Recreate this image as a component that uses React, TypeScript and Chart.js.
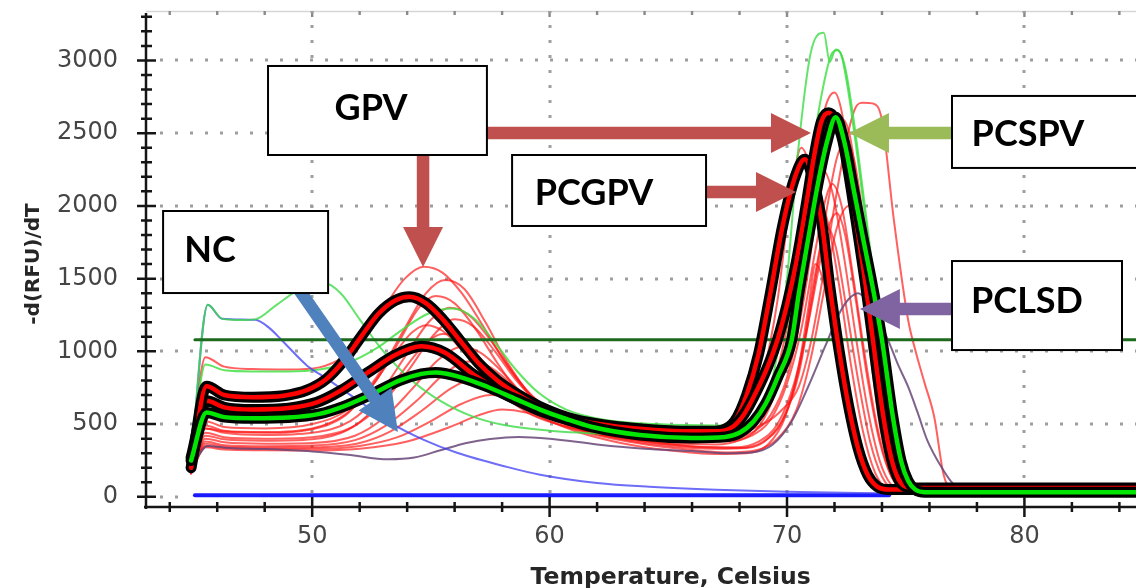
import React, { useEffect, useRef } from 'react';
import { Chart, registerables } from 'chart.js';

Chart.register(...registerables);

type P = [number, number];

// ---------- axes ----------
const tempMin = 43;
const tempMax = 84.7;
const rfuMin = -70;
const rfuMax = 3340;
const tempTickLabels = [50, 60, 70, 80];
const rfuTickLabels = [0, 500, 1000, 1500, 2000, 2500, 3000];
const xTitle = 'Temperature, Celsius';
const yTitle = '-d(RFU)/dT';
const thresholdRfu = 1080;

// ---------- thick highlighted curves ----------
const thickRedMid: P[] = [
  [44.9, 270], [45.55, 660], [46.3, 615], [47.5, 600], [49, 610], [50.2, 650], [51.2, 730], [52.4, 860],
  [53.5, 975], [54.6, 1035], [55.6, 990], [56.8, 840], [58.2, 700], [59.6, 590], [61, 520], [63, 470],
  [65, 450], [66.5, 445], [67.3, 460], [67.8, 520], [68.3, 700], [68.8, 980], [69.3, 1400], [69.8, 1850],
  [70.3, 2180], [70.75, 2320], [71.1, 2180], [71.45, 1900], [71.8, 1450], [72.2, 1000], [72.6, 620],
  [73.0, 330], [73.4, 150], [73.8, 70], [74.3, 50], [84.7, 50],
];
const thickRedHigh: P[] = [
  [44.9, 200], [45.55, 760], [46.3, 700], [47.5, 685], [48.8, 695], [49.8, 735], [50.6, 810], [51.3, 930],
  [52.1, 1110], [52.8, 1260], [53.5, 1350], [54.1, 1375], [54.8, 1330], [55.5, 1220], [56.2, 1080],
  [57, 920], [57.8, 800], [58.7, 700], [59.6, 620], [61, 535], [63, 480], [65, 455], [67, 450],
  [67.7, 480], [68.2, 570], [68.7, 720], [69.2, 900], [69.6, 1080], [70.0, 1320], [70.4, 1620],
  [70.8, 2000], [71.15, 2350], [71.45, 2580], [71.75, 2640], [72.05, 2590], [72.35, 2450], [72.7, 2120],
  [73.0, 1800], [73.3, 1470], [73.6, 1100], [74.05, 560], [74.4, 260], [74.7, 120], [75.0, 70],
  [75.4, 60], [84.7, 60],
];
const thickGreen: P[] = [
  [44.9, 250], [45.55, 580], [46.3, 548], [47.5, 540], [49, 545], [50.3, 570], [51.3, 620], [52.5, 705],
  [53.7, 800], [54.6, 845], [55.2, 855], [56.2, 825], [57.4, 755], [58.6, 670], [59.6, 600], [60.7, 535],
  [61.8, 480], [63.8, 425], [66, 405], [67.4, 412], [68.0, 440], [68.6, 520], [69.1, 640], [69.6, 820],
  [70.2, 1080], [70.5, 1400], [70.9, 1780], [71.3, 2150], [71.7, 2450], [72.05, 2610], [72.4, 2450],
  [72.8, 2120], [73.2, 1780], [73.6, 1450], [74.0, 1080], [74.45, 560], [74.8, 250], [75.1, 110],
  [75.4, 50], [75.8, 32], [84.7, 32],
];

// ---------- thin red curves ----------
const red1: P[] = [
  [44.9, 300], [45.5, 960], [46.3, 895], [47.5, 878], [49, 875], [50.3, 890], [51.3, 960], [52.2, 1100],
  [53.1, 1320], [53.9, 1500], [54.7, 1582], [55.5, 1540], [56.3, 1400], [57.1, 1200], [58, 960],
  [59, 740], [60, 600], [61.5, 510], [63.5, 470], [66, 450], [68, 450], [69, 500], [69.8, 600],
  [70.5, 760], [71.0, 1060], [71.5, 1500], [72.0, 2000], [72.5, 2450], [72.9, 2680], [73.2, 2710],
  [73.6, 2705], [74.0, 2590], [74.5, 1905], [75.1, 1217], [75.4, 1011], [75.8, 780], [76.2, 550],
  [76.6, 150], [76.9, 55], [77.5, 38], [84.7, 35],
];
const red2: P[] = [
  [44.9, 220], [45.5, 520], [46.3, 480], [48, 470], [50, 500], [51.5, 600], [52.7, 820], [53.8, 1130],
  [54.8, 1400], [55.6, 1490], [56.4, 1430], [57.3, 1200], [58.2, 930], [59.2, 700], [60.5, 560],
  [62.5, 480], [65, 440], [67, 430], [68, 450], [68.8, 560], [69.5, 820], [70.1, 1250], [70.7, 1850],
  [71.3, 2450], [71.7, 2720], [72.0, 2780], [72.3, 2650], [72.7, 2200], [73.1, 1600], [73.5, 1000],
  [73.9, 500], [74.3, 200], [74.8, 60], [75.5, 40], [84.7, 40],
];
const red3: P[] = [
  [44.9, 210], [45.5, 490], [46.3, 455], [48, 445], [50, 470], [51.5, 580], [52.7, 800], [53.7, 1080],
  [54.5, 1300], [55.2, 1380], [56, 1330], [56.9, 1150], [57.8, 920], [58.8, 700], [60, 560], [62, 470],
  [64.5, 420], [66.5, 410], [67.5, 440], [68.3, 560], [69, 850], [69.6, 1350], [70.1, 2000],
  [70.6, 2400], [71.0, 2250], [71.5, 1800], [72.0, 1250], [72.5, 750], [73.0, 380], [73.5, 150],
  [74, 60], [74.8, 40], [84.7, 40],
];
const red4: P[] = [
  [44.9, 200], [45.5, 470], [46.3, 440], [48, 425], [50, 440], [51.6, 520], [52.8, 700], [53.9, 960],
  [54.9, 1200], [55.8, 1300], [56.6, 1250], [57.5, 1080], [58.4, 860], [59.4, 660], [60.6, 540],
  [62.5, 460], [65, 410], [67, 395], [68, 420], [68.8, 520], [69.5, 750], [70.1, 1150], [70.7, 1700],
  [71.2, 2100], [71.5, 2250], [71.9, 2100], [72.4, 1650], [72.9, 1100], [73.4, 600], [73.9, 250],
  [74.4, 80], [75, 40], [84.7, 40],
];
const red5: P[] = [
  [44.9, 190], [45.5, 440], [46.3, 410], [48, 400], [50, 410], [51.7, 480], [53, 650], [54.1, 880],
  [55.1, 1110], [56.0, 1220], [56.8, 1170], [57.7, 1000], [58.6, 800], [59.6, 630], [61, 510], [63, 440],
  [65.5, 390], [67.5, 380], [68.5, 420], [69.3, 530], [70, 780], [70.6, 1150], [71.2, 1700],
  [71.6, 2030], [71.9, 2150], [72.3, 2000], [72.8, 1500], [73.3, 950], [73.8, 480], [74.3, 180],
  [74.8, 60], [75.5, 40], [84.7, 40],
];
const red6: P[] = [
  [44.9, 180], [45.5, 420], [46.3, 395], [48, 385], [50, 395], [51.5, 460], [52.7, 620], [53.7, 840],
  [54.7, 1040], [55.5, 1120], [56.3, 1080], [57.2, 930], [58.1, 750], [59.1, 600], [60.5, 490],
  [62.5, 420], [65, 370], [67, 360], [68, 390], [68.8, 480], [69.5, 720], [70.1, 1150], [70.7, 1700],
  [71.05, 1960], [71.3, 2050], [71.7, 1900], [72.2, 1450], [72.7, 900], [73.2, 450], [73.7, 170],
  [74.2, 60], [75, 40], [84.7, 40],
];
const red7: P[] = [
  [44.9, 175], [45.5, 400], [46.3, 375], [48, 365], [50, 370], [51.8, 420], [53, 540], [54.2, 740],
  [55.3, 940], [56.3, 1030], [57.1, 990], [58, 860], [58.9, 700], [59.9, 570], [61.3, 470], [63.3, 400],
  [65.8, 350], [67.8, 340], [68.8, 380], [69.6, 500], [70.3, 780], [70.9, 1200], [71.5, 1700],
  [71.85, 1900], [72.1, 1950], [72.45, 1800], [72.9, 1350], [73.4, 800], [73.9, 380], [74.4, 140],
  [74.9, 50], [75.6, 40], [84.7, 40],
];
const red8: P[] = [
  [44.9, 170], [45.5, 380], [46.3, 355], [48, 348], [50, 352], [51.8, 390], [53.1, 490], [54.4, 660],
  [55.6, 850], [56.6, 930], [57.4, 900], [58.3, 790], [59.2, 650], [60.3, 530], [61.8, 440], [64, 380],
  [66.5, 340], [68, 335], [69, 380], [69.8, 520], [70.5, 850], [71.1, 1400], [71.7, 2000], [72.1, 2330],
  [72.5, 2450], [72.85, 2300], [73.3, 1800], [73.8, 1100], [74.3, 550], [74.8, 200], [75.3, 60],
  [76, 40], [84.7, 40],
];
const red9: P[] = [
  [44.9, 165], [45.5, 365], [46.3, 345], [48, 338], [50, 340], [52, 370], [53.3, 450], [54.6, 590],
  [55.9, 750], [57.0, 820], [57.8, 790], [58.7, 700], [59.6, 590], [60.8, 490], [62.3, 420], [64.5, 360],
  [67, 330], [68.3, 335], [69.2, 400], [70, 600], [70.6, 950], [71.1, 1450], [71.45, 1750], [71.7, 1850],
  [72.05, 1720], [72.5, 1300], [73, 800], [73.5, 380], [74, 140], [74.5, 50], [75.2, 40], [84.7, 40],
];
const red10: P[] = [
  [44.9, 160], [45.5, 350], [46.3, 335], [48, 330], [50, 330], [52, 350], [53.6, 410], [55, 520],
  [56.3, 640], [57.5, 700], [58.4, 680], [59.3, 610], [60.3, 520], [61.6, 440], [63.3, 380], [65.5, 330],
  [67.5, 305], [68.7, 320], [69.6, 400], [70.4, 600], [71.0, 950], [71.6, 1450], [72.1, 1850],
  [72.6, 2000], [73.0, 1880], [73.5, 1400], [74, 800], [74.5, 350], [75, 110], [75.5, 45], [84.7, 40],
];
const red11: P[] = [
  [44.9, 200], [45.5, 470], [46.3, 450], [48, 440], [50, 465], [51.4, 560], [52.5, 760], [53.5, 990],
  [54.2, 1130], [54.8, 1180], [55.5, 1140], [56.3, 1010], [57.2, 840], [58.2, 680], [59.3, 560],
  [60.8, 480], [63, 430], [65.5, 405], [67.5, 400], [68.5, 440], [69.3, 560], [70, 820], [70.7, 1350],
  [71.3, 2000], [71.9, 2470], [72.3, 2600], [72.65, 2480], [73.1, 1950], [73.6, 1200], [74.1, 560],
  [74.6, 180], [75.1, 60], [75.8, 40], [84.7, 40],
];
const red12: P[] = [
  [44.9, 160], [45.5, 340], [46.3, 325], [48, 320], [50, 318], [52, 330], [54, 380], [55.8, 480],
  [57, 560], [58.0, 600], [59, 580], [60, 520], [61.3, 440], [63, 370], [65, 320], [67, 295],
  [68.3, 300], [69.2, 360], [69.9, 540], [70.5, 900], [70.9, 1300], [71.2, 1600], [71.5, 1500],
  [72, 1100], [72.5, 650], [73, 300], [73.5, 110], [74, 50], [74.8, 40], [84.7, 40],
];

// ---------- thin green, purple, blue curves ----------
const green1: P[] = [
  [44.9, 260], [45.6, 1320], [46.2, 1225], [47.0, 1215], [47.6, 1220], [48.5, 1320], [49.5, 1430],
  [50.5, 1470], [51.2, 1400], [52.0, 1220], [53.0, 1000], [54.2, 800], [55.4, 660], [56.8, 550],
  [58.2, 490], [60, 455], [63, 430], [66, 420], [68, 440], [68.8, 560], [69.5, 900], [70.0, 1500],
  [70.46, 2366], [71.0, 3054], [71.55, 3190], [71.8, 2990], [72.05, 3075], [72.3, 3030], [72.55, 2820],
  [73.0, 2300], [73.5, 1650], [74.0, 1000], [74.5, 420], [75.0, 120], [75.5, 40], [84.7, 35],
];
const green2: P[] = [
  [44.9, 280], [45.5, 910], [46.3, 870], [47.5, 862], [49, 862], [50.3, 875], [51.5, 920], [52.7, 1020],
  [53.8, 1150], [54.9, 1260], [55.9, 1295], [56.8, 1230], [57.7, 1060], [58.6, 870], [59.5, 720],
  [60.7, 600], [62.3, 530], [64.5, 500], [67, 490], [68.3, 510], [69.2, 640], [69.9, 1000], [70.5, 1650],
  [71.0, 2300], [71.5, 2800], [71.9, 3050], [72.15, 3070], [72.45, 2950], [72.8, 2600], [73.2, 2100],
  [73.7, 1450], [74.2, 800], [74.7, 300], [75.2, 80], [75.8, 40], [84.7, 35],
];
const purple: P[] = [
  [44.9, 200], [45.6, 350], [46.5, 335], [48, 328], [50, 312], [51.5, 290], [53.2, 258], [54.3, 270],
  [55.4, 320], [56.5, 370], [57.5, 398], [58.7, 412], [60, 400], [62, 360], [64, 330], [66, 315],
  [67.5, 300], [68.5, 305], [69.4, 360], [70.2, 520], [70.9, 760], [71.6, 1032], [72.2, 1260],
  [72.6, 1360], [73.0, 1400], [73.4, 1340], [73.9, 1200], [74.3, 1060], [74.7, 900], [75.1, 757],
  [75.5, 580], [75.9, 392], [76.5, 206], [77, 90], [77.6, 45], [84.7, 35],
];
const negControl: P[] = [
  [44.9, 230], [45.6, 1320], [46.2, 1225], [47.6, 1217], [48.2, 1160], [48.7, 1080], [49.8, 900],
  [50.5, 825], [51.9, 667], [53.3, 509], [54.7, 392], [56.1, 303], [58.2, 206], [59.6, 152], [62, 95],
  [64.2, 69], [67, 48], [70, 34], [73, 26], [76, 22],
];
const blankBaseline: P[] = [[45.06, 10], [74.3, 10]];
const thresholdLine: P[] = [[45.06, thresholdRfu], [84.7, thresholdRfu]];

// ---------- annotations (data coordinates) ----------
const labelBoxes = [
  { text: 'GPV', x0: 48.14, x1: 57.36, y0: 2962, y1: 2350, tx: 52.48, ty: 2680 },
  { text: 'PCGPV', x0: 58.42, x1: 66.59, y0: 2350, y1: 1862, tx: 61.87, ty: 2096 },
  { text: 'NC', x0: 43.72, x1: 50.67, y0: 1965, y1: 1401, tx: 45.7, ty: 1704 },
  { text: 'PCSPV', x0: 76.95, x1: 85.08, y0: 2756, y1: 2261, tx: 80.15, ty: 2501 },
  { text: 'PCLSD', x0: 76.95, x1: 84.11, y0: 1621, y1: 1009, tx: 80.11, ty: 1353 },
];
const arrows = [
  { from: [57.36, 2501], to: [71.01, 2501], color: '#c0504d' },
  { from: [54.67, 2350], to: [54.67, 1580], color: '#c0504d' },
  { from: [66.59, 2096], to: [70.38, 2096], color: '#c0504d' },
  { from: [76.95, 2501], to: [72.61, 2501], color: '#9bbb59' },
  { from: [76.95, 1291], to: [73.07, 1291], color: '#8064a2' },
  { from: [49.4, 1436], to: [53.61, 446], color: '#4f81bd' },
];

const toXY = (pts: P[]) => pts.map(([x, y]) => ({ x, y }));

function drawArrow(ctx: CanvasRenderingContext2D, x0: number, y0: number, x1: number, y1: number, color: string) {
  const shaft = 12.5, headL = 40, headW = 40;
  const dx = x1 - x0, dy = y1 - y0;
  const len = Math.hypot(dx, dy);
  const ux = dx / len, uy = dy / len, nx = -uy, ny = ux;
  const bx = x1 - ux * headL, by = y1 - uy * headL;
  ctx.beginPath();
  ctx.moveTo(x0 + nx * shaft / 2, y0 + ny * shaft / 2);
  ctx.lineTo(bx + nx * shaft / 2, by + ny * shaft / 2);
  ctx.lineTo(bx + nx * headW / 2, by + ny * headW / 2);
  ctx.lineTo(x1, y1);
  ctx.lineTo(bx - nx * headW / 2, by - ny * headW / 2);
  ctx.lineTo(bx - nx * shaft / 2, by - ny * shaft / 2);
  ctx.lineTo(x0 - nx * shaft / 2, y0 - ny * shaft / 2);
  ctx.closePath();
  ctx.fillStyle = color;
  ctx.fill();
}

const decorPlugin = {
  id: 'decor',
  beforeDatasetsDraw(chart: any) {
    const { ctx, chartArea: a, scales } = chart;
    const xs = scales.x, ys = scales.y;
    ctx.save();
    // top frame line
    ctx.strokeStyle = '#d6d6d6';
    ctx.lineWidth = 1.5;
    ctx.beginPath();
    ctx.moveTo(a.left, a.top + 0.5);
    ctx.lineTo(a.right, a.top + 0.5);
    ctx.stroke();
    // small marks on the top frame
    ctx.fillStyle = '#8a8a8a';
    for (let t = 44; t <= 84; t += 2) {
      const px = xs.getPixelForValue(t);
      ctx.fillRect(px - 1.2, a.top, 2.4, tempTickLabels.includes(t) ? 6 : 4);
    }
    // dotted grid
    ctx.strokeStyle = '#9e9e9e';
    ctx.lineWidth = 3;
    ctx.setLineDash([3, 12]);
    for (const v of rfuTickLabels) {
      if (v === 0) continue;
      const py = Math.round(ys.getPixelForValue(v));
      ctx.beginPath();
      ctx.moveTo(a.left + 14, py);
      ctx.lineTo(a.right, py);
      ctx.stroke();
    }
    {
      const py = Math.round(ys.getPixelForValue(0));
      ctx.beginPath();
      ctx.moveTo(a.left + 14, py);
      ctx.lineTo(a.left + 40, py);
      ctx.stroke();
    }
    for (const t of tempTickLabels) {
      const px = Math.round(xs.getPixelForValue(t));
      ctx.beginPath();
      ctx.moveTo(px, a.bottom - 14);
      ctx.lineTo(px, a.top);
      ctx.stroke();
    }
    ctx.setLineDash([]);
    ctx.restore();
  },
  afterDatasetsDraw(chart: any) {
    const { ctx, chartArea: a, scales } = chart;
    const xs = scales.x, ys = scales.y;
    ctx.save();
    ctx.strokeStyle = '#151515';
    ctx.lineWidth = 2.5;
    // axis lines
    ctx.beginPath();
    ctx.moveTo(a.left, a.top + 2);
    ctx.lineTo(a.left, a.bottom + 2);
    ctx.moveTo(a.left - 2, a.bottom);
    ctx.lineTo(a.right, a.bottom);
    ctx.stroke();
    // y ticks
    ctx.beginPath();
    for (let v = 0; v <= 3300; v += 100) {
      const py = ys.getPixelForValue(v);
      const major = v % 500 === 0;
      ctx.moveTo(a.left - (major ? 9 : 5), py);
      ctx.lineTo(a.left + (major ? 10 : 6), py);
    }
    // x ticks
    for (let t = 44; t <= 84; t += 2) {
      const px = xs.getPixelForValue(t);
      const major = tempTickLabels.includes(t);
      ctx.moveTo(px, a.bottom - (major ? 10 : 5));
      ctx.lineTo(px, a.bottom + (major ? 10 : 5));
    }
    ctx.stroke();
    ctx.restore();
  },
  afterDraw(chart: any) {
    const { ctx, chartArea: a, scales } = chart;
    const xs = scales.x, ys = scales.y;
    ctx.save();
    // axis titles
    ctx.fillStyle = '#262626';
    ctx.font = 'bold 23.5px "DejaVu Sans"';
    ctx.textAlign = 'center';
    ctx.textBaseline = 'alphabetic';
    ctx.fillText(xTitle, xs.getPixelForValue(65.1), 584);
    ctx.save();
    ctx.translate(39, 264);
    ctx.rotate(-Math.PI / 2);
    ctx.font = 'bold 20px "DejaVu Sans"';
    ctx.fillText(yTitle, 0, 0);
    ctx.restore();
    // arrows
    for (const ar of arrows) {
      drawArrow(
        ctx,
        xs.getPixelForValue(ar.from[0]), ys.getPixelForValue(ar.from[1]),
        xs.getPixelForValue(ar.to[0]), ys.getPixelForValue(ar.to[1]),
        ar.color,
      );
    }
    // label boxes
    for (const b of labelBoxes) {
      const x0 = xs.getPixelForValue(b.x0), x1 = xs.getPixelForValue(b.x1);
      const y0 = ys.getPixelForValue(b.y0), y1 = ys.getPixelForValue(b.y1);
      ctx.fillStyle = '#ffffff';
      ctx.fillRect(x0, y0, x1 - x0, y1 - y0);
      ctx.strokeStyle = '#000000';
      ctx.lineWidth = 2;
      ctx.strokeRect(x0, y0, x1 - x0, y1 - y0);
      ctx.fillStyle = '#000000';
      ctx.font = 'bold 36px Lato';
      ctx.textAlign = 'center';
      ctx.textBaseline = 'alphabetic';
      ctx.fillText(b.text, xs.getPixelForValue(b.tx), ys.getPixelForValue(b.ty) + 13);
    }
    ctx.restore();
  },
};

const thinRedColor = 'rgba(255, 20, 20, 0.68)';

function line(data: P[], color: string, width: number) {
  return {
    data: toXY(data),
    borderColor: color,
    borderWidth: width,
    pointRadius: 0,
    fill: false,
    cubicInterpolationMode: 'monotone' as const,
    borderJoinStyle: 'round' as const,
    borderCapStyle: 'round' as const,
  };
}

export default function App() {
  const ref = useRef<HTMLCanvasElement>(null);
  useEffect(() => {
    if (!ref.current) return;
    const thinReds = [red12, red10, red9, red8, red7, red6, red5, red4, red3, red11, red2, red1];
    const list: any[] = [
      line(blankBaseline, '#1a1aff', 4),
      ...thinReds.map((r) => line(r, thinRedColor, 2)),
      line(purple, 'rgba(105, 70, 120, 0.85)', 2),
      line(green2, 'rgba(70, 225, 70, 0.85)', 2),
      line(negControl, 'rgba(60, 60, 245, 0.75)', 2),
      line(green1, 'rgba(60, 220, 70, 0.8)', 2),
      line(thresholdLine, '#1d6a1d', 3),
      line(thickRedMid, '#000000', 11),
      line(thickRedMid, '#ff0000', 4.5),
      line(thickRedHigh, '#000000', 11),
      line(thickRedHigh, '#ff0000', 4.5),
      line(thickGreen, '#000000', 11),
      line(thickGreen, '#00e600', 4.5),
    ];
    list.forEach((d, i) => { d.order = -i; });
    const chart = new Chart(ref.current, {
      type: 'line',
      data: { datasets: list },
      plugins: [decorPlugin],
      options: {
        responsive: false,
        devicePixelRatio: 1,
        animation: false,
        events: [],
        layout: { autoPadding: false, padding: { top: 11, right: 0, left: 0, bottom: 0 } },
        plugins: { legend: { display: false }, tooltip: { enabled: false }, title: { display: false } },
        scales: {
          x: {
            type: 'linear',
            min: tempMin,
            max: tempMax,
            afterBuildTicks: (s: any) => { s.ticks = tempTickLabels.map((v) => ({ value: v })); },
            afterFit: (s: any) => { s.height = 81; s.paddingLeft = 0; s.paddingRight = 0; },
            grid: { display: false, drawTicks: false },
            border: { display: false },
            ticks: {
              autoSkip: false,
              maxRotation: 0,
              padding: 15,
              color: '#454545',
              font: { family: 'DejaVu Sans', size: 24 },
              callback: (v: any) => String(v),
            },
          },
          y: {
            type: 'linear',
            min: rfuMin,
            max: rfuMax,
            afterBuildTicks: (s: any) => { s.ticks = rfuTickLabels.map((v) => ({ value: v })); },
            afterFit: (s: any) => { s.width = 146; s.paddingTop = 0; s.paddingBottom = 0; },
            grid: { display: false, drawTicks: false },
            border: { display: false },
            ticks: {
              padding: 28,
              color: '#454545',
              font: { family: 'DejaVu Sans', size: 24 },
              callback: (v: any) => String(v),
            },
          },
        },
      } as any,
    });
    return () => chart.destroy();
  }, []);
  return (
    <div style={{ position: 'fixed', left: 0, top: 0, width: 1136, height: 588, background: '#ffffff' }}>
      <canvas ref={ref} width={1136} height={588} style={{ display: 'block', width: 1136, height: 588 }} />
    </div>
  );
}
